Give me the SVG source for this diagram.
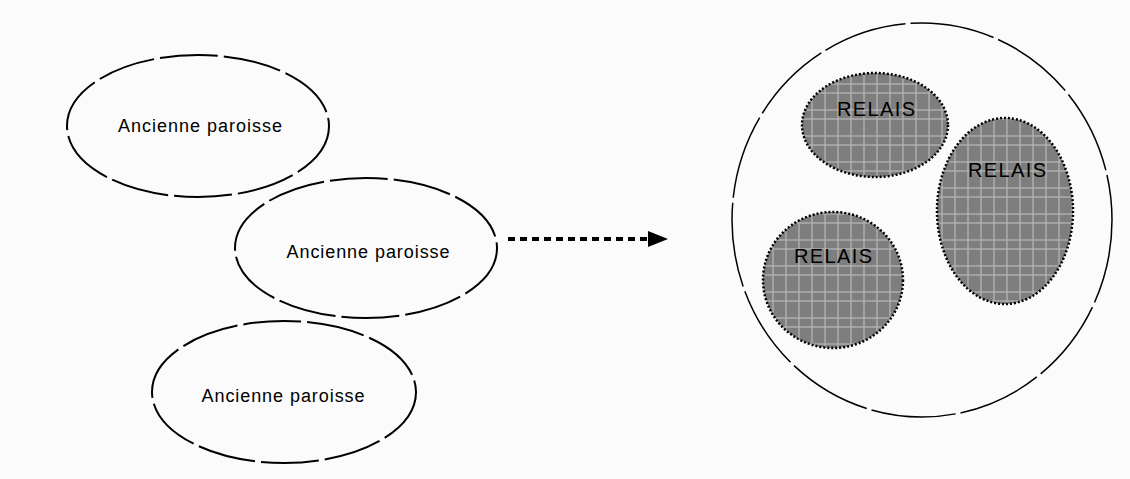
<svg xmlns="http://www.w3.org/2000/svg" width="1130" height="479" viewBox="0 0 1130 479">
<defs>
<style>
.par{fill:none;stroke:#000;stroke-width:2;stroke-dasharray:58 6}
.lbl{font-family:"Liberation Sans",Arial,sans-serif;font-size:18px;fill:#000;text-anchor:middle}
.rel{fill:url(#grid);stroke:#000;stroke-width:2.5;stroke-dasharray:2 2}
.rlbl{font-family:"Liberation Sans",Arial,sans-serif;font-size:20px;fill:#000;text-anchor:middle}
.conn{stroke:#000;stroke-width:4;stroke-dasharray:7 5;fill:none}
</style>
<pattern id="grid" patternUnits="userSpaceOnUse" width="13" height="26">
<rect width="13" height="26" fill="#7e7e7e"/>
<line x1="6" y1="0" x2="6" y2="26" stroke="#b4b4b4" stroke-width="1.3"/>
<line x1="0" y1="6" x2="13" y2="6" stroke="#b4b4b4" stroke-width="1.3"/>
<line x1="0" y1="15" x2="13" y2="15" stroke="#b4b4b4" stroke-width="1.3"/>
</pattern>
<marker id="ah" markerWidth="5" markerHeight="5" refX="4" refY="2.5" orient="auto" markerUnits="strokeWidth">
<polygon points="0,0.5 5,2.5 0,4.5" fill="#000"/>
</marker>
</defs>
<rect width="1130" height="479" fill="#fbfbfb"/>
<g id="connectors">
<line class="conn" x1="508" y1="239" x2="664" y2="239" marker-end="url(#ah)"/>
</g>
<g id="paroisse1">
<ellipse class="par" cx="198" cy="126" rx="131" ry="71"/>
<text class="lbl" x="200" y="132" textLength="164" lengthAdjust="spacing">Ancienne paroisse</text>
</g>
<g id="paroisse2">
<ellipse class="par" cx="366" cy="248" rx="131" ry="70"/>
<text class="lbl" x="368" y="258" textLength="163" lengthAdjust="spacing">Ancienne paroisse</text>
</g>
<g id="paroisse3">
<ellipse class="par" cx="284" cy="392" rx="132" ry="71"/>
<text class="lbl" x="283" y="402" textLength="163" lengthAdjust="spacing">Ancienne paroisse</text>
</g>
<g id="zone">
<ellipse cx="922" cy="220" rx="190" ry="197" fill="none" stroke="#000" stroke-width="1.5" stroke-dasharray="85 5"/>
</g>
<g id="relais1">
<ellipse class="rel" cx="875" cy="125" rx="73" ry="52"/>
<text class="rlbl" x="876" y="116" textLength="78" lengthAdjust="spacing">RELAIS</text>
</g>
<g id="relais2">
<ellipse class="rel" cx="1005" cy="211" rx="68" ry="93"/>
<text class="rlbl" x="1007" y="177" textLength="78" lengthAdjust="spacing">RELAIS</text>
</g>
<g id="relais3">
<ellipse class="rel" cx="833" cy="280" rx="70" ry="68"/>
<text class="rlbl" x="833" y="263" textLength="78" lengthAdjust="spacing">RELAIS</text>
</g>
</svg>
